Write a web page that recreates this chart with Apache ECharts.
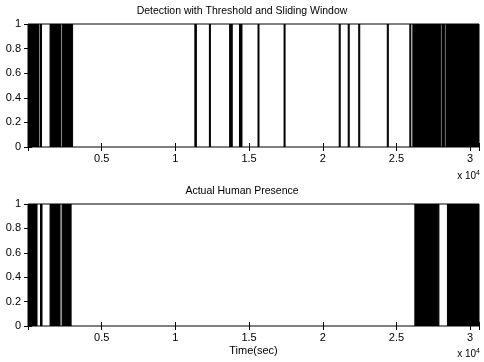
<!DOCTYPE html>
<html>
<head>
<meta charset="utf-8">
<script src="https://cdn.jsdelivr.net/npm/echarts@6/dist/echarts.min.js"></script>
<style>
	html, body { margin: 0; padding: 0; background: #fff; }
	#main { width: 484px; height: 362px; }
</style>
</head>
<body>
<div id="main"></div>
<script>
// time in seconds, "on" intervals
var topStart = [0, 816, 1496, 2312, 11322, 12308, 13682, 13804, 14348, 15606, 17374, 21114, 21726, 22440, 24378, 25908, 26112, 28084, 28356];
var topEnd   = [714, 918, 2210, 3026, 11424, 12376, 13736, 13858, 14518, 15674, 17442, 21182, 21794, 22508, 24446, 25976, 27982, 28254, 30600];
var botStart = [0, 850, 1496, 2312, 26248, 27832, 28458];
var botEnd   = [612, 952, 2176, 2924, 27778, 27880, 30600];
var xTicks = [5000, 10000, 15000, 20000, 25000, 30000];
var titles = ['Detection with Threshold and Sliding Window', 'Actual Human Presence'];
var xMax = 30600;

var font = 'Liberation Sans, Arial, Helvetica, sans-serif';

function toData(starts, ends) {
	var d = [];
	for (var i = 0; i < starts.length; i++) {
		d.push([starts[i], ends[i]]);
	}
	return d;
}

var grids = [
	{ left: 28, right: 5, top: 24, height: 123 },
	{ left: 28, right: 5, top: 204, height: 122 }
];

var xAxes = [], yAxes = [];
for (var g = 0; g < 2; g++) {
	grids[g].show = true;
	grids[g].borderColor = '#000';
	grids[g].borderWidth = 1;
	grids[g].backgroundColor = '#fff';
	xAxes.push({
		gridIndex: g, type: 'value', min: 0, max: xMax, interval: 5000,
		axisLine: { show: false },
		axisTick: { inside: true, length: 4, lineStyle: { color: '#000' } },
		splitLine: { show: false },
		axisLabel: {
			color: '#000', fontSize: 11, fontFamily: font, margin: 6,
			formatter: function(v) {
				return xTicks.indexOf(v) >= 0 ? String(v / 10000) : '';
			}
		},
		name: g == 1 ? 'Time(sec)' : '',
		nameLocation: 'middle', nameGap: 19,
		nameTextStyle: { color: '#000', fontSize: 11, fontFamily: font }
	});
	xAxes.push({
		gridIndex: g, type: 'value', min: 0, max: xMax, interval: 5000, position: 'top',
		axisLine: { show: false },
		axisTick: { inside: true, length: 4, lineStyle: { color: '#000' } },
		axisLabel: { show: false }, splitLine: { show: false }
	});
	yAxes.push({
		gridIndex: g, type: 'value', min: 0, max: 1, interval: 0.2,
		axisLine: { show: false },
		axisTick: { inside: true, length: 4, lineStyle: { color: '#000' } },
		splitLine: { show: false },
		axisLabel: {
			color: '#000', fontSize: 11, fontFamily: font, margin: 7,
			formatter: function(v) { return String(Math.round(v * 10) / 10); }
		}
	});
	yAxes.push({
		gridIndex: g, type: 'value', min: 0, max: 1, interval: 0.2, position: 'right',
		axisLine: { show: false },
		axisTick: { inside: true, length: 4, lineStyle: { color: '#000' } },
		axisLabel: { show: false }, splitLine: { show: false }
	});
}

// each "on" interval is a block from 0 up to 1
var renderOn = function(params, api) {
	var p0 = api.coord([api.value(0), 1]);
	var p1 = api.coord([api.value(1), 0]);
	return {
		type: 'rect',
		shape: { x: p0[0], y: p0[1], width: Math.max(p1[0] - p0[0], 0.5), height: p1[1] - p0[1] },
		style: { fill: '#000', stroke: '#000', lineWidth: 1 }
	};
};

function onSeries(idx, starts, ends) {
	return {
		type: 'custom',
		xAxisIndex: idx * 2, yAxisIndex: idx * 2,
		data: toData(starts, ends),
		encode: { x: [0, 1] },
		renderItem: renderOn,
		clip: true
	};
}

var expLabel = function(y) {
	return {
		type: 'text', right: 4, top: y,
		style: {
			text: 'x 10{sup|4}', fill: '#000',
			font: '10px ' + font,
			rich: { sup: { fontSize: 7, verticalAlign: 'top', padding: [0, 0, 6, 0], fontFamily: font } }
		}
	};
};

var chart = echarts.init(document.getElementById('main'));
chart.setOption({
	animation: false,
	backgroundColor: '#fff',
	title: [
		{ text: titles[0], left: 'center', top: 1, textStyle: { fontSize: 10.5, fontWeight: 'normal', color: '#000', fontFamily: font } },
		{ text: titles[1], left: 'center', top: 181, textStyle: { fontSize: 10.5, fontWeight: 'normal', color: '#000', fontFamily: font } }
	],
	grid: grids,
	xAxis: xAxes,
	yAxis: yAxes,
	series: [
		onSeries(0, topStart, topEnd),
		onSeries(1, botStart, botEnd)
	],
	graphic: [expLabel(170), expLabel(348)]
});
</script>
</body>
</html>
